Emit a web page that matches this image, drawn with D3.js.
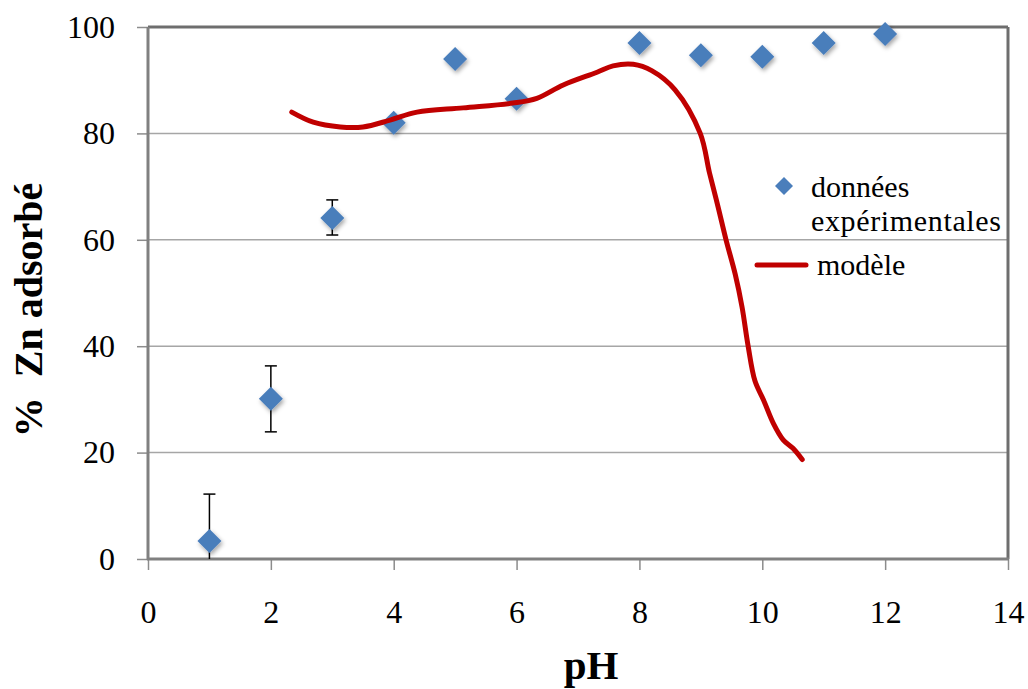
<!DOCTYPE html>
<html><head><meta charset="utf-8">
<script src="https://cdn.jsdelivr.net/npm/d3@7"></script>
<style>body{margin:0;background:#fff}svg{display:block}</style>
</head><body>
<svg id="c" width="1028" height="689"></svg>
<script>
const phData = [1,2,3,4,5,6,8,9,10,11,12];
const znData = [3.4,30.1,64.1,82.0,94.0,86.5,97.0,94.7,94.4,97.0,98.7];
const errUp = [8.8,6.2,3.4,0,0,0,0,0,0,0,0];
const errDown = [8.8,6.2,3.2,0,0,0,0,0,0,0,0];
const modelPh = [2.34,2.69,3.13,3.5,3.94,4.38,5.13,5.94,6.33,6.76,7.31,7.57,7.9,8.2,8.58,8.99,9.14,9.28,9.41,9.56,9.67,9.77,9.88,10.02,10.18,10.34,10.5,10.65];
const modelZn = [84.0,82.1,81.2,81.2,82.5,84.0,84.8,85.7,86.6,89.1,91.5,92.7,93.0,91.8,88.2,80.0,72.6,66.2,60.0,53.5,47.4,40.0,33.5,29.9,25.5,22.4,20.8,18.7];
const xTicks = [0,2,4,6,8,10,12,14];
const yTicks = [0,20,40,60,80,100];

const svg = d3.select('#c');
const L=148,R=1008,T=27,B=559;
const x = d3.scaleLinear().domain([0,14]).range([L,R]);
const y = d3.scaleLinear().domain([0,100]).range([B,T]);
const font = 'Liberation Serif';

const defs = svg.append('defs');
const f = defs.append('filter').attr('id','sh').attr('x','-50%').attr('y','-50%').attr('width','200%').attr('height','200%');
f.append('feDropShadow').attr('dx',1.5).attr('dy',2.5).attr('stdDeviation',2).attr('flood-color','#000').attr('flood-opacity',0.35);
defs.append('clipPath').attr('id','clip').append('rect').attr('x',L).attr('y',T).attr('width',R-L).attr('height',B-T);

// gridlines
svg.append('g').selectAll('line').data(yTicks.filter(d=>d>0&&d<100)).join('line')
  .attr('x1',L).attr('x2',R).attr('y1',d=>y(d)).attr('y2',d=>y(d))
  .attr('stroke','#a6a6a6').attr('stroke-width',1.5);

// axes
const yAx = svg.append('g').attr('transform',`translate(${L},0)`)
  .call(d3.axisLeft(y).tickValues(yTicks).tickSize(11).tickPadding(22));
const xAx = svg.append('g').attr('transform',`translate(0,${B})`)
  .call(d3.axisBottom(x).tickValues(xTicks).tickSize(11).tickPadding(30));
[yAx,xAx].forEach(g=>{
  g.attr('font-family',font).attr('font-size',32);
  g.select('.domain').remove();
  g.selectAll('line').attr('stroke','#8c8c8c').attr('stroke-width',1.5);
  g.selectAll('text').style('font-family',font).style('font-size','32px').attr('fill','#000');
});
// frame
svg.append('line').attr('x1',L).attr('x2',R).attr('y1',T).attr('y2',T).attr('stroke','#6e6e6e').attr('stroke-width',3);
svg.append('line').attr('x1',R).attr('x2',R).attr('y1',T).attr('y2',B).attr('stroke','#6e6e6e').attr('stroke-width',3);
svg.append('line').attr('x1',L).attr('x2',L).attr('y1',T).attr('y2',B+1).attr('stroke','#808080').attr('stroke-width',3);
svg.append('line').attr('x1',L-1).attr('x2',R+1).attr('y1',B).attr('y2',B).attr('stroke','#808080').attr('stroke-width',3);

// error bars
const eb = svg.append('g').attr('clip-path','url(#clip)');
phData.forEach((p,i)=>{
  if(!errUp[i]) return;
  const top=y(znData[i]+errUp[i]), bot=y(znData[i]-errDown[i]);
  eb.append('line').attr('x1',x(p)).attr('x2',x(p)).attr('y1',top).attr('y2',bot).attr('stroke','#000').attr('stroke-width',1.5);
  eb.append('line').attr('x1',x(p)-6).attr('x2',x(p)+6).attr('y1',top).attr('y2',top).attr('stroke','#000').attr('stroke-width',1.5);
  if(znData[i]-errDown[i]>0)
    eb.append('line').attr('x1',x(p)-6).attr('x2',x(p)+6).attr('y1',bot).attr('y2',bot).attr('stroke','#000').attr('stroke-width',1.5);
});

// points
const diamond = s=>`M0,${-s}L${s},0L0,${s}L${-s},0Z`;
svg.append('g').selectAll('path').data(phData).join('path')
  .attr('d',diamond(12)).attr('transform',(d,i)=>`translate(${x(d)},${y(znData[i])})`)
  .attr('fill','#4a7ebb').attr('filter','url(#sh)');

// model line (drawn over the points)
svg.append('path').datum(modelPh.map((p,i)=>[p,modelZn[i]]))
  .attr('d',d3.line().x(d=>x(d[0])).y(d=>y(d[1])).curve(d3.curveCatmullRom))
  .attr('fill','none').attr('stroke','#c00000').attr('stroke-width',5).attr('stroke-linecap','round');

// legend
const lg = svg.append('g');
lg.append('path').attr('d',diamond(9)).attr('transform','translate(784,186)').attr('fill','#4a7ebb');
lg.append('text').attr('x',811).attr('y',197).text('données');
lg.append('text').attr('x',811).attr('y',231).attr('textLength',190).text('expérimentales');
lg.append('line').attr('x1',757).attr('x2',806).attr('y1',265).attr('y2',265).attr('stroke','#c00000').attr('stroke-width',5).attr('stroke-linecap','round');
lg.append('text').attr('x',817).attr('y',275).text('modèle');
lg.selectAll('text').style('font-family',font).style('font-size','30px').attr('fill','#000');

// titles
svg.append('text').attr('x',591).attr('y',679).attr('text-anchor','middle')
  .style('font-family',font).style('font-size','41px').attr('font-weight','bold').text('pH');
svg.append('text').attr('transform','translate(42,310) rotate(-90)').attr('text-anchor','middle')
  .style('font-family',font).style('font-size','40px').attr('font-weight','bold').style('white-space','pre').text('%  Zn adsorbé');
</script>
</body></html>
